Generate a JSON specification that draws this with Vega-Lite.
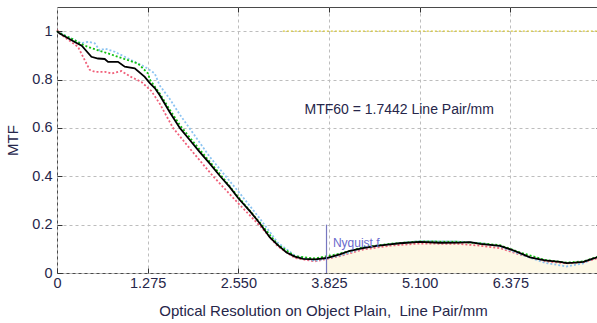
{
  "$schema": "https://vega.github.io/schema/vega-lite/v6.json",
  "width": 544,
  "height": 266,
  "autosize": {"type": "none"},
  "padding": {"left": 57, "top": 7, "right": 0, "bottom": 50},
  "background": "white",
  "view": {"stroke": "#4a4a4a", "strokeWidth": 1},
  "config": {
    "font": "Liberation Sans",
    "axis": {
      "labelFont": "Liberation Sans",
      "titleFont": "Liberation Sans",
      "labelColor": "#26264a",
      "titleColor": "#26264a",
      "titleFontWeight": "normal",
      "domain": false,
      "tickColor": "#333333",
      "tickSize": -5,
      "gridColor": "#bdbdbd",
      "gridDash": [3, 3],
      "gridWidth": 1,
      "labelFlush": false,
      "labelOverlap": false
    }
  },
  "datasets": {
    "curves": [
      {"s": "black", "x": 0.000, "y": 1.000},
      {"s": "black", "x": 0.038, "y": 0.990},
      {"s": "black", "x": 0.132, "y": 0.975},
      {"s": "black", "x": 0.249, "y": 0.955},
      {"s": "black", "x": 0.348, "y": 0.940},
      {"s": "black", "x": 0.484, "y": 0.894},
      {"s": "black", "x": 0.577, "y": 0.887},
      {"s": "black", "x": 0.671, "y": 0.885},
      {"s": "black", "x": 0.718, "y": 0.873},
      {"s": "black", "x": 0.858, "y": 0.873},
      {"s": "black", "x": 0.953, "y": 0.853},
      {"s": "black", "x": 1.093, "y": 0.846},
      {"s": "black", "x": 1.234, "y": 0.811},
      {"s": "black", "x": 1.305, "y": 0.785},
      {"s": "black", "x": 1.375, "y": 0.765},
      {"s": "black", "x": 1.445, "y": 0.735},
      {"s": "black", "x": 1.586, "y": 0.665},
      {"s": "black", "x": 1.727, "y": 0.600},
      {"s": "black", "x": 1.867, "y": 0.550},
      {"s": "black", "x": 2.008, "y": 0.500},
      {"s": "black", "x": 2.149, "y": 0.452},
      {"s": "black", "x": 2.289, "y": 0.402},
      {"s": "black", "x": 2.430, "y": 0.355},
      {"s": "black", "x": 2.547, "y": 0.310},
      {"s": "black", "x": 2.712, "y": 0.256},
      {"s": "black", "x": 2.853, "y": 0.205},
      {"s": "black", "x": 2.994, "y": 0.147},
      {"s": "black", "x": 3.106, "y": 0.115},
      {"s": "black", "x": 3.228, "y": 0.085},
      {"s": "black", "x": 3.345, "y": 0.068},
      {"s": "black", "x": 3.462, "y": 0.058},
      {"s": "black", "x": 3.627, "y": 0.056},
      {"s": "black", "x": 3.791, "y": 0.062},
      {"s": "black", "x": 3.978, "y": 0.077},
      {"s": "black", "x": 4.119, "y": 0.092},
      {"s": "black", "x": 4.302, "y": 0.103},
      {"s": "black", "x": 4.495, "y": 0.112},
      {"s": "black", "x": 4.682, "y": 0.118},
      {"s": "black", "x": 4.823, "y": 0.123},
      {"s": "black", "x": 5.104, "y": 0.129},
      {"s": "black", "x": 5.386, "y": 0.125},
      {"s": "black", "x": 5.667, "y": 0.126},
      {"s": "black", "x": 5.808, "y": 0.128},
      {"s": "black", "x": 5.949, "y": 0.120},
      {"s": "black", "x": 6.230, "y": 0.112},
      {"s": "black", "x": 6.395, "y": 0.096},
      {"s": "black", "x": 6.511, "y": 0.082},
      {"s": "black", "x": 6.652, "y": 0.065},
      {"s": "black", "x": 6.863, "y": 0.052},
      {"s": "black", "x": 7.074, "y": 0.046},
      {"s": "black", "x": 7.168, "y": 0.041},
      {"s": "black", "x": 7.285, "y": 0.043},
      {"s": "black", "x": 7.402, "y": 0.046},
      {"s": "black", "x": 7.525, "y": 0.058},
      {"s": "black", "x": 7.651, "y": 0.070},

      {"s": "green", "x": 0.000, "y": 1.000},
      {"s": "green", "x": 0.085, "y": 0.985},
      {"s": "green", "x": 0.202, "y": 0.970},
      {"s": "green", "x": 0.320, "y": 0.950},
      {"s": "green", "x": 0.436, "y": 0.935},
      {"s": "green", "x": 0.577, "y": 0.921},
      {"s": "green", "x": 0.718, "y": 0.908},
      {"s": "green", "x": 0.858, "y": 0.894},
      {"s": "green", "x": 0.999, "y": 0.880},
      {"s": "green", "x": 1.140, "y": 0.866},
      {"s": "green", "x": 1.281, "y": 0.825},
      {"s": "green", "x": 1.305, "y": 0.800},
      {"s": "green", "x": 1.445, "y": 0.742},
      {"s": "green", "x": 1.586, "y": 0.675},
      {"s": "green", "x": 1.727, "y": 0.612},
      {"s": "green", "x": 1.867, "y": 0.560},
      {"s": "green", "x": 2.008, "y": 0.510},
      {"s": "green", "x": 2.289, "y": 0.410},
      {"s": "green", "x": 2.547, "y": 0.315},
      {"s": "green", "x": 2.853, "y": 0.208},
      {"s": "green", "x": 3.106, "y": 0.117},
      {"s": "green", "x": 3.345, "y": 0.070},
      {"s": "green", "x": 3.627, "y": 0.060},
      {"s": "green", "x": 3.978, "y": 0.080},
      {"s": "green", "x": 4.302, "y": 0.106},
      {"s": "green", "x": 4.682, "y": 0.121},
      {"s": "green", "x": 5.104, "y": 0.131},
      {"s": "green", "x": 5.667, "y": 0.129},
      {"s": "green", "x": 5.949, "y": 0.123},
      {"s": "green", "x": 6.230, "y": 0.115},
      {"s": "green", "x": 6.511, "y": 0.085},
      {"s": "green", "x": 6.863, "y": 0.054},
      {"s": "green", "x": 7.168, "y": 0.043},
      {"s": "green", "x": 7.402, "y": 0.048},
      {"s": "green", "x": 7.651, "y": 0.072},

      {"s": "blue", "x": 0.000, "y": 1.000},
      {"s": "blue", "x": 0.155, "y": 0.977},
      {"s": "blue", "x": 0.343, "y": 0.950},
      {"s": "blue", "x": 0.436, "y": 0.956},
      {"s": "blue", "x": 0.531, "y": 0.950},
      {"s": "blue", "x": 0.601, "y": 0.920},
      {"s": "blue", "x": 0.671, "y": 0.928},
      {"s": "blue", "x": 0.812, "y": 0.915},
      {"s": "blue", "x": 0.858, "y": 0.908},
      {"s": "blue", "x": 0.953, "y": 0.894},
      {"s": "blue", "x": 1.093, "y": 0.873},
      {"s": "blue", "x": 1.234, "y": 0.853},
      {"s": "blue", "x": 1.375, "y": 0.825},
      {"s": "blue", "x": 1.445, "y": 0.775},
      {"s": "blue", "x": 1.586, "y": 0.720},
      {"s": "blue", "x": 1.727, "y": 0.655},
      {"s": "blue", "x": 1.914, "y": 0.578},
      {"s": "blue", "x": 2.149, "y": 0.480},
      {"s": "blue", "x": 2.336, "y": 0.413},
      {"s": "blue", "x": 2.570, "y": 0.330},
      {"s": "blue", "x": 2.853, "y": 0.225},
      {"s": "blue", "x": 3.106, "y": 0.125},
      {"s": "blue", "x": 3.345, "y": 0.072},
      {"s": "blue", "x": 3.627, "y": 0.050},
      {"s": "blue", "x": 3.978, "y": 0.072},
      {"s": "blue", "x": 4.302, "y": 0.103},
      {"s": "blue", "x": 4.682, "y": 0.120},
      {"s": "blue", "x": 5.104, "y": 0.132},
      {"s": "blue", "x": 5.667, "y": 0.130},
      {"s": "blue", "x": 5.949, "y": 0.124},
      {"s": "blue", "x": 6.230, "y": 0.110},
      {"s": "blue", "x": 6.511, "y": 0.078},
      {"s": "blue", "x": 6.863, "y": 0.042},
      {"s": "blue", "x": 7.168, "y": 0.027},
      {"s": "blue", "x": 7.402, "y": 0.040},
      {"s": "blue", "x": 7.651, "y": 0.075},

      {"s": "red", "x": 0.000, "y": 1.005},
      {"s": "red", "x": 0.062, "y": 0.985},
      {"s": "red", "x": 0.296, "y": 0.935},
      {"s": "red", "x": 0.390, "y": 0.880},
      {"s": "red", "x": 0.460, "y": 0.840},
      {"s": "red", "x": 0.531, "y": 0.832},
      {"s": "red", "x": 0.671, "y": 0.832},
      {"s": "red", "x": 0.766, "y": 0.825},
      {"s": "red", "x": 0.906, "y": 0.835},
      {"s": "red", "x": 1.047, "y": 0.810},
      {"s": "red", "x": 1.188, "y": 0.790},
      {"s": "red", "x": 1.328, "y": 0.752},
      {"s": "red", "x": 1.445, "y": 0.700},
      {"s": "red", "x": 1.632, "y": 0.600},
      {"s": "red", "x": 1.867, "y": 0.515},
      {"s": "red", "x": 2.195, "y": 0.400},
      {"s": "red", "x": 2.543, "y": 0.290},
      {"s": "red", "x": 2.853, "y": 0.195},
      {"s": "red", "x": 3.106, "y": 0.110},
      {"s": "red", "x": 3.345, "y": 0.062},
      {"s": "red", "x": 3.627, "y": 0.048},
      {"s": "red", "x": 3.978, "y": 0.070},
      {"s": "red", "x": 4.302, "y": 0.097},
      {"s": "red", "x": 4.682, "y": 0.113},
      {"s": "red", "x": 5.104, "y": 0.122},
      {"s": "red", "x": 5.667, "y": 0.120},
      {"s": "red", "x": 5.949, "y": 0.113},
      {"s": "red", "x": 6.230, "y": 0.103},
      {"s": "red", "x": 6.511, "y": 0.076},
      {"s": "red", "x": 6.863, "y": 0.048},
      {"s": "red", "x": 7.168, "y": 0.040},
      {"s": "red", "x": 7.402, "y": 0.045},
      {"s": "red", "x": 7.651, "y": 0.065}
    ],
    "yellow": [
      {"x": 3.176, "y": 1.0},
      {"x": 7.651, "y": 1.0}
    ],
    "nyquist": [
      {"x": 3.79, "y": 0, "y2": 0.2}
    ],
    "labels": [
      {"x": 3.48, "y": 0.674, "text": "MTF60 = 1.7442 Line Pair/mm", "kind": "mtf"},
      {"x": 3.88, "y": 0.108, "text": "Nyquist f", "kind": "nyq"}
    ]
  },
  "layer": [
    {
      "data": {"name": "curves"},
      "transform": [{"filter": "datum.s == 'black' && datum.x >= 3.79"}],
      "mark": {"type": "area", "color": "#fdf8e6", "interpolate": "linear"},
      "encoding": {
        "x": {
          "field": "x", "type": "quantitative",
          "scale": {"domain": [0, 7.65], "nice": false, "zero": false},
          "axis": {
            "orient": "bottom",
            "values": [0, 1.275, 2.55, 3.825, 5.1, 6.375],
            "labelExpr": "datum.value == 0 ? '0' : format(datum.value, '.3f')",
            "labelFontSize": 14.5,
            "labelPadding": 8,
            "title": "Optical Resolution on Object Plain,\u00a0 Line Pair/mm",
            "titleFontSize": 15,
            "titleX": 266,
            "titleY": 42,
            "titleAnchor": null,
            "titleAlign": "center",
            "titleBaseline": "alphabetic",
            "grid": true
          }
        },
        "y": {
          "field": "y", "type": "quantitative",
          "scale": {"domain": [0, 1.1], "nice": false},
          "axis": {
            "orient": "left",
            "values": [0, 0.2, 0.4, 0.6, 0.8, 1],
            "labelExpr": "datum.value == 0 ? '0' : datum.value == 1 ? '1' : format(datum.value, '.1f')",
            "labelFontSize": 14.5,
            "labelPadding": 10,
            "title": "MTF",
            "titleFontSize": 15,
            "titleX": -40,
            "titleY": 133,
            "titleAngle": -90,
            "titleAlign": "center",
            "titleBaseline": "alphabetic",
            "grid": true
          }
        }
      }
    },
    {
      "data": {"name": "curves"},
      "transform": [{"filter": "datum.s == 'red'"}],
      "mark": {"type": "line", "color": "#f0607a", "strokeWidth": 1.8, "strokeDash": [2, 2]},
      "encoding": {
        "x": {"field": "x", "type": "quantitative", "axis": null},
        "y": {"field": "y", "type": "quantitative", "axis": null}
      }
    },
    {
      "data": {"name": "curves"},
      "transform": [{"filter": "datum.s == 'blue'"}],
      "mark": {"type": "line", "color": "#8cc4f2", "strokeWidth": 1.8, "strokeDash": [2, 2]},
      "encoding": {
        "x": {"field": "x", "type": "quantitative", "axis": null},
        "y": {"field": "y", "type": "quantitative", "axis": null}
      }
    },
    {
      "data": {"name": "curves"},
      "transform": [{"filter": "datum.s == 'green'"}],
      "mark": {"type": "line", "color": "#10c010", "strokeWidth": 1.8, "strokeDash": [2, 2]},
      "encoding": {
        "x": {"field": "x", "type": "quantitative", "axis": null},
        "y": {"field": "y", "type": "quantitative", "axis": null}
      }
    },
    {
      "data": {"name": "curves"},
      "transform": [{"filter": "datum.s == 'black'"}],
      "mark": {"type": "line", "color": "#000000", "strokeWidth": 1.8},
      "encoding": {
        "x": {"field": "x", "type": "quantitative", "axis": null},
        "y": {"field": "y", "type": "quantitative", "axis": null}
      }
    },
    {
      "data": {"name": "nyquist"},
      "mark": {"type": "rule", "color": "#7878c0", "strokeWidth": 1.2},
      "encoding": {
        "x": {"field": "x", "type": "quantitative", "axis": null},
        "y": {"field": "y", "type": "quantitative", "axis": null},
        "y2": {"field": "y2"}
      }
    },
    {
      "data": {"name": "yellow"},
      "mark": {"type": "line", "color": "#d8c838", "strokeWidth": 1.2, "strokeDash": [2, 2]},
      "encoding": {
        "x": {
          "field": "x", "type": "quantitative",
          "axis": {"orient": "top", "values": [1.275, 2.55, 3.825, 5.1, 6.375], "labels": false, "title": null, "grid": false}
        },
        "y": {
          "field": "y", "type": "quantitative",
          "axis": {"orient": "right", "values": [0.2, 0.4, 0.6, 0.8, 1], "labels": false, "title": null, "grid": false}
        }
      }
    },
    {
      "data": {"name": "labels"},
      "transform": [{"filter": "datum.kind == 'mtf'"}],
      "mark": {"type": "text", "align": "left", "baseline": "middle", "fontSize": 14, "font": "Liberation Sans", "color": "#26264a"},
      "encoding": {
        "x": {"field": "x", "type": "quantitative", "axis": null},
        "y": {"field": "y", "type": "quantitative", "axis": null},
        "text": {"field": "text"}
      }
    },
    {
      "data": {"name": "labels"},
      "transform": [{"filter": "datum.kind == 'nyq'"}],
      "mark": {"type": "text", "align": "left", "baseline": "alphabetic", "fontSize": 12, "font": "Liberation Sans", "color": "#6a6acc"},
      "encoding": {
        "x": {"field": "x", "type": "quantitative", "axis": null},
        "y": {"field": "y", "type": "quantitative", "axis": null},
        "text": {"field": "text"}
      }
    }
  ],
  "resolve": {"axis": {"x": "independent", "y": "independent"}}
}
